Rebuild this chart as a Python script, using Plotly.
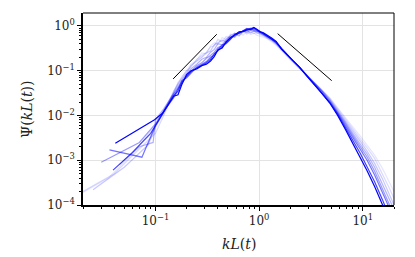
import plotly.graph_objects as go

# ---------------- data ----------------
KB = [0.15, 0.165, 0.18, 0.2, 0.22, 0.25, 0.28, 0.31, 0.34, 0.37, 0.4, 0.44, 0.48, 0.53,
      0.58, 0.64, 0.7, 0.76, 0.83, 0.89, 0.95, 1.02, 1.1, 1.2, 1.32, 1.46, 1.65, 1.85, 2.1]
KT = [2.45, 2.9, 3.4, 4.0, 4.8, 5.7, 6.8, 8.0, 9.5, 11, 13, 15.5, 18, 20]

# curves ordered from lightest (earliest) to darkest (latest)
low_k = [
    [0.02, 0.035, 0.06, 0.1, 0.12],
    [0.02, 0.04, 0.07, 0.1, 0.12],
    [0.025, 0.05, 0.085, 0.1, 0.12],
    [0.045, 0.07, 0.095, 0.1, 0.12],
    [0.030, 0.07, 0.1, 0.12],
    [0.036, 0.074, 0.1, 0.125],
    [0.039, 0.06, 0.09, 0.12],
    [0.041, 0.098, 0.117, 0.135],
]
low_psi = [
    [0.00019, 0.0004, 0.0014, 0.006, 0.011],
    [0.0002, 0.0005, 0.0018, 0.004, 0.01],
    [0.00022, 0.0007, 0.0022, 0.0055, 0.012],
    [0.0008, 0.002, 0.0025, 0.008, 0.014],
    [0.0009, 0.0025, 0.0065, 0.013],
    [0.0017, 0.00117, 0.006, 0.014],
    [0.0006, 0.0015, 0.004, 0.012],
    [0.0024, 0.008, 0.0112, 0.018],
]
body_psi = [
    [0.03, 0.05, 0.075, 0.1, 0.14, 0.17, 0.25, 0.24, 0.36, 0.42, 0.38, 0.55, 0.5, 0.66, 0.58, 0.72,
     0.62, 0.76, 0.64, 0.7, 0.62, 0.6, 0.56, 0.52, 0.45, 0.37, 0.28, 0.21, 0.155],
    [0.033, 0.055, 0.07, 0.1, 0.12, 0.18, 0.22, 0.26, 0.34, 0.36, 0.5, 0.44, 0.58, 0.55, 0.7, 0.62,
     0.78, 0.66, 0.74, 0.68, 0.72, 0.64, 0.6, 0.54, 0.47, 0.39, 0.29, 0.22, 0.16],
    [0.035, 0.05, 0.065, 0.09, 0.13, 0.16, 0.2, 0.25, 0.28, 0.38, 0.42, 0.48, 0.45, 0.62, 0.68, 0.6,
     0.74, 0.8, 0.7, 0.78, 0.7, 0.68, 0.62, 0.56, 0.48, 0.40, 0.30, 0.22, 0.165],
    [0.032, 0.045, 0.06, 0.085, 0.11, 0.14, 0.18, 0.2, 0.26, 0.3, 0.4, 0.38, 0.5, 0.6, 0.56, 0.7,
     0.78, 0.72, 0.8, 0.76, 0.78, 0.70, 0.64, 0.58, 0.50, 0.41, 0.31, 0.23, 0.17],
    [0.03, 0.04, 0.052, 0.08, 0.1, 0.13, 0.15, 0.19, 0.22, 0.26, 0.33, 0.36, 0.46, 0.56, 0.6, 0.72,
     0.74, 0.8, 0.86, 0.80, 0.78, 0.73, 0.66, 0.59, 0.51, 0.42, 0.31, 0.23, 0.17],
    [0.025, 0.038, 0.06, 0.07, 0.09, 0.12, 0.14, 0.16, 0.2, 0.22, 0.3, 0.38, 0.40, 0.5, 0.66, 0.68,
     0.78, 0.88, 0.82, 0.86, 0.80, 0.72, 0.69, 0.60, 0.52, 0.43, 0.31, 0.23, 0.17],
    [0.028, 0.035, 0.055, 0.075, 0.095, 0.115, 0.135, 0.15, 0.18, 0.24, 0.28, 0.35, 0.42, 0.52, 0.62,
     0.70, 0.80, 0.85, 0.88, 0.90, 0.82, 0.74, 0.68, 0.61, 0.53, 0.44, 0.31, 0.23, 0.17],
    [0.027, 0.029, 0.05, 0.082, 0.10, 0.11, 0.13, 0.14, 0.165, 0.21, 0.29, 0.32, 0.44, 0.55, 0.64,
     0.74, 0.76, 0.82, 0.84, 0.93, 0.85, 0.75, 0.70, 0.62, 0.54, 0.45, 0.30, 0.23, 0.17],
]
tail_psi = [
    [0.11, 0.076, 0.054, 0.038, 0.025, 0.015, 0.0092, 0.0056, 0.0034, 0.0022, 0.0013, 0.00065, 0.00033, 0.0002],
    [0.115, 0.078, 0.055, 0.038, 0.024, 0.0143, 0.0085, 0.005, 0.003, 0.0019, 0.0011, 0.0005, 0.00024, 0.00014],
    [0.12, 0.08, 0.055, 0.037, 0.023, 0.0135, 0.0077, 0.0045, 0.0026, 0.0016, 0.00085, 0.00038, 0.00018, 0.0001],
    [0.12, 0.079, 0.054, 0.036, 0.022, 0.0127, 0.007, 0.004, 0.0022, 0.00138, 0.0007, 0.0003, 0.00014, 0.00008],
    [0.12, 0.078, 0.053, 0.035, 0.021, 0.012, 0.0065, 0.0036, 0.0019, 0.00118, 0.00057, 0.00024, 0.00011, 0.00006],
    [0.12, 0.077, 0.052, 0.034, 0.020, 0.0113, 0.006, 0.0032, 0.0017, 0.0010, 0.00047, 0.00019, 0.000085, 0.00005],
    [0.12, 0.076, 0.051, 0.033, 0.0195, 0.0108, 0.0055, 0.0028, 0.0014, 0.00072, 0.00033, 0.00013, 0.00006, 0.00003],
    [0.12, 0.075, 0.05, 0.032, 0.019, 0.0102, 0.0049, 0.0024, 0.00115, 0.00058, 0.00026, 0.000105, 0.000045, 0.00002],
]
alphas = [0.1, 0.15, 0.22, 0.3, 0.4, 0.55, 0.75, 1.0]

# reference power-law guide lines (endpoints)
guide_left_k = [0.148, 0.39]
guide_left_psi = [0.0656, 0.653]
guide_right_k = [1.51, 5.01]
guide_right_psi = [0.673, 0.060]

x_ticks = [0.1, 1, 10]
x_ticklabels = ["10<sup>−1</sup>", "10<sup>0</sup>", "10<sup>1</sup>"]
y_ticks = [1e-4, 1e-3, 1e-2, 1e-1, 1]
y_ticklabels = ["10<sup>−4</sup>", "10<sup>−3</sup>", "10<sup>−2</sup>", "10<sup>−1</sup>", "10<sup>0</sup>"]

# ---------------- figure ----------------
FONT = "DejaVu Serif"
fig = go.Figure()
for lk, lp, bp, tp, a in zip(low_k, low_psi, body_psi, tail_psi, alphas):
    fig.add_trace(go.Scatter(
        x=lk + KB + KT, y=lp + bp + tp, mode="lines",
        line=dict(color=f"rgba(0,0,255,{a})", width=1.2),
        showlegend=False, hoverinfo="skip"))

for gk, gp in [(guide_left_k, guide_left_psi), (guide_right_k, guide_right_psi)]:
    fig.add_trace(go.Scatter(x=gk, y=gp, mode="lines",
                             line=dict(color="black", width=1), showlegend=False))

x_minor = [m * d for d in (0.01, 0.1, 1) for m in range(2, 10)] + [20]
x_minor = [v for v in x_minor if 0.02 <= v <= 20]
y_minor = [m * d for d in (1e-4, 1e-3, 1e-2, 1e-1, 1) for m in range(2, 10)]
y_minor = [v for v in y_minor if v <= 2]

axis_common = dict(
    type="log", showgrid=True, gridcolor="#e3e3e3", gridwidth=1,
    showline=True, linecolor="black", linewidth=1.6, mirror=False,
    ticks="outside", ticklen=4, tickwidth=1, tickcolor="black",
    tickfont=dict(family=FONT, size=12, color="#222"), zeroline=False,
)
fig.update_xaxes(**axis_common, range=[-1.699, 1.301], tickvals=x_ticks, ticktext=x_ticklabels,
                 minor=dict(tickvals=x_minor, ticks="outside", ticklen=2, tickwidth=0.8,
                            tickcolor="black", showgrid=False))
fig.update_yaxes(**axis_common, range=[-4, 0.29], tickvals=y_ticks, ticktext=y_ticklabels,
                 minor=dict(tickvals=y_minor, ticks="outside", ticklen=2, tickwidth=0.8,
                            tickcolor="black", showgrid=False))

# top and right spines (thinner)
fig.add_shape(type="line", xref="paper", yref="paper", x0=0, x1=1, y0=1, y1=1,
              line=dict(color="black", width=1))
fig.add_shape(type="line", xref="paper", yref="paper", x0=1, x1=1, y0=0, y1=1,
              line=dict(color="black", width=1))

fig.add_annotation(text="<i>kL</i>(<i>t</i>)", xref="paper", yref="paper",
                   x=0.5, y=-0.205, xanchor="center", yanchor="middle", showarrow=False,
                   font=dict(family=FONT, size=14, color="#222"))
fig.add_annotation(text="Ψ(<i>kL</i>(<i>t</i>))", xref="paper", yref="paper",
                   x=-0.18, y=0.5, xanchor="center", yanchor="middle", showarrow=False,
                   textangle=-90, font=dict(family=FONT, size=14, color="#222"))

fig.update_layout(
    width=415, height=257, margin=dict(l=83, r=21, t=13, b=52),
    plot_bgcolor="white", paper_bgcolor="white", showlegend=False,
)
fig.write_html("out.html", config={"displayModeBar": False},
               post_script="document.body.style.margin='0';document.body.style.overflow='hidden';")
